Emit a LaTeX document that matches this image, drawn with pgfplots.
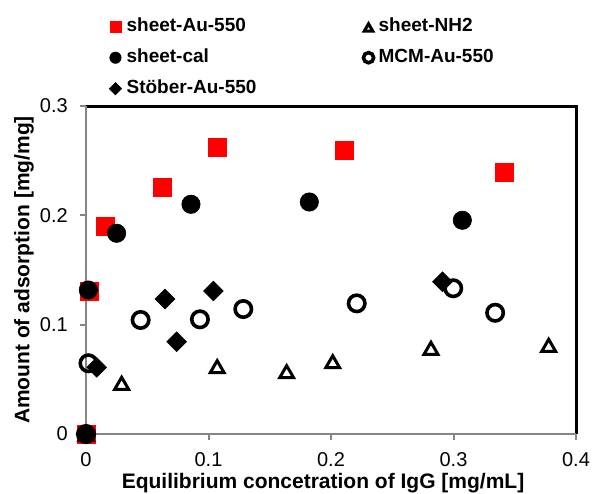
\documentclass[border=0pt]{standalone}
\usepackage{fontspec}
\setmainfont{Liberation Sans}
\usepackage{pgfplots}
\pgfplotsset{compat=1.18}
\definecolor{axgray}{RGB}{134,134,134}
\definecolor{xred}{RGB}{255,0,0}

\begin{document}
\begin{tikzpicture}
\begin{axis}[
    scale only axis, width=245pt, height=164pt,
    xmin=0, xmax=0.4, ymin=0, ymax=0.3,
    xtick={0,0.1,0.2,0.3,0.4}, ytick={0,0.1,0.2,0.3},
    axis line style={draw=none},
    tick align=outside, xtick pos=left, ytick pos=left,
    major tick length=3pt,
    tick style={axgray, line width=1pt},
    ticklabel style={font=\fontsize{10}{12}\selectfont},
    /pgf/number format/assume math mode=true,
    xticklabel style={yshift=-2.6pt},
    yticklabel style={xshift=-2.6pt},
    xlabel={Equilibrium concetration of IgG [mg/mL]},
    ylabel={Amount of adsorption [mg/mg]},
    xlabel style={at={(rel axis cs:0.4837,-0.166)}, anchor=base, font=\bfseries\fontsize{10.5}{12}\selectfont},
    ylabel style={at={(rel axis cs:-0.1265,0.5)}, anchor=center, font=\bfseries\fontsize{10.5}{12}\selectfont},
    clip=false,
    legend columns=2,
    legend cell align=left,
    legend style={at={(rel axis cs:0.0476,1.2692)}, anchor=north west, draw=none, fill=none,
        inner sep=0pt, outer sep=0pt, font=\bfseries\fontsize{9.5}{11}\selectfont,
        nodes={inner sep=0pt, text height=7pt, text depth=2pt},
        row sep=6.5pt,
        /tikz/every odd column/.append style={column sep=2.5pt},
        /tikz/every even column/.append style={column sep=53.5pt}},
    legend image code/.code={\draw[#1,/tikz/every mark/.append style={scale=0.62}] plot coordinates {(0pt,0pt)};},
]
% plot-area border: black on top and right, grey axes on left and bottom
\draw[black, line width=1.5pt] (rel axis cs:0,1) -- (rel axis cs:1,1) -- (rel axis cs:1,0);
\draw[axgray, line width=1pt] (rel axis cs:0,1) -- (rel axis cs:0,0) -- (rel axis cs:1,0);

\addplot[only marks, mark=square*, mark size=4.5pt, mark options={draw=xred, fill=xred, line width=0.3pt}]
  coordinates {(0,0)(0.0024,0.1308)(0.0155,0.1902)(0.0623,0.2253)(0.107,0.2622)(0.2106,0.2595)(0.3415,0.2394)};
\addlegendentry{sheet-Au-550}
\addplot[only marks, mark=triangle, mark size=4pt, mark options={draw=black, fill=none, line width=1.5pt, yshift=-1pt}]
  coordinates {(0,0)(0.0291,0.0464)(0.1071,0.0616)(0.1638,0.0570)(0.2014,0.0661)(0.2816,0.0784)(0.3777,0.0811)};
\addlegendentry{sheet-NH2}
\addplot[only marks, mark=*, mark size=4.6pt, mark options={draw=black, fill=black, line width=0.3pt}]
  coordinates {(0,0)(0.0019,0.1317)(0.0250,0.1836)(0.0857,0.2101)(0.1823,0.2122)(0.3072,0.1955)};
\addlegendentry{sheet-cal}
\addplot[only marks, mark=o, mark size=4.1pt, mark options={draw=black, line width=1.8pt}]
  coordinates {(0,0)(0.002,0.0647)(0.0446,0.1043)(0.093,0.1049)(0.1284,0.1143)(0.221,0.1195)(0.2998,0.1333)(0.334,0.1109)};
\addlegendentry{MCM-Au-550}
\addplot[only marks, mark=square*, mark size=3.5pt, mark options={draw=black, fill=black, line width=0.3pt, rotate=45}]
  coordinates {(0,0)(0.0087,0.0610)(0.0645,0.1235)(0.074,0.0844)(0.104,0.1308)(0.291,0.1393)};
\addlegendentry{Stöber-Au-550}
\end{axis}
\pgfresetboundingbox
\path ([shift={(-43pt,-29.5pt)}]current axis.south west) rectangle ([shift={(253pt,217pt)}]current axis.south west);
\end{tikzpicture}
\end{document}
